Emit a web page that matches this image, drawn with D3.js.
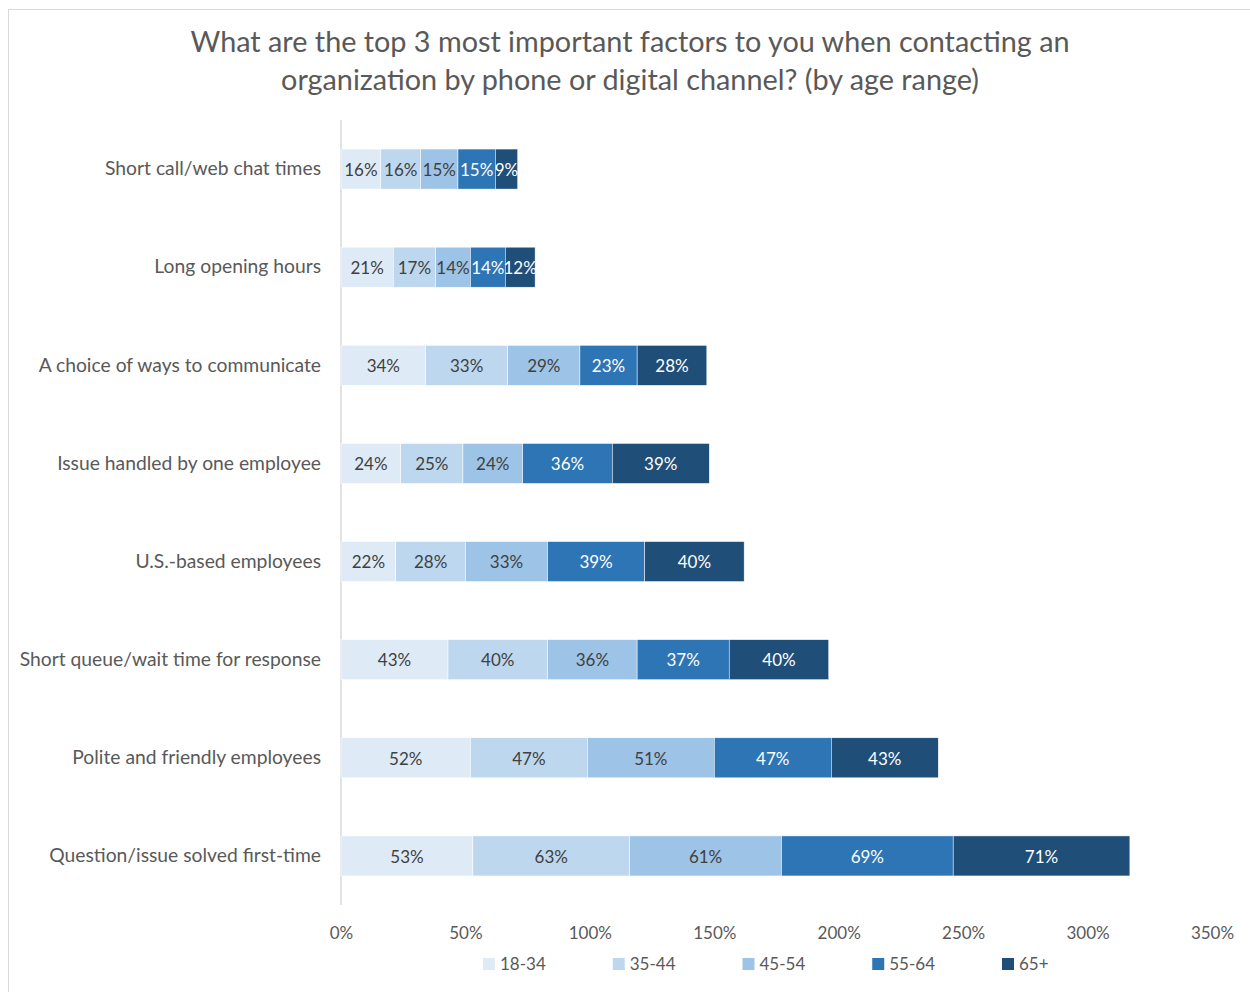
<!DOCTYPE html>
<html><head><meta charset="utf-8">
<script src="https://cdn.jsdelivr.net/npm/d3@7"></script>
<style>body{margin:0;background:#fff}svg{display:block}text{font-family:Lato,"Open Sans",sans-serif}</style>
</head><body><svg id="c" width="1250" height="992"></svg>
<script>
const categories = ["Short call/web chat times","Long opening hours","A choice of ways to communicate","Issue handled by one employee","U.S.-based employees","Short queue/wait time for response","Polite and friendly employees","Question/issue solved first-time"];
const seriesNames = ["18-34","35-44","45-54","55-64","65+"];
const s1834 = [16,21,34,24,22,43,52,53];
const s3544 = [16,17,33,25,28,40,47,63];
const s4554 = [15,14,29,24,33,36,51,61];
const s5564 = [15,14,23,36,39,37,47,69];
const s65 = [9,12,28,39,40,40,43,71];
const tickValues = [0,50,100,150,200,250,300,350];
const titleLines = ["What are the top 3 most important factors to you when contacting an","organization by phone or digital channel? (by age range)"];

const colors = ["#DEEBF7","#BDD7EE","#9DC3E6","#2E75B6","#1F4E79"];
const labelColors = ["#404040","#404040","#404040","#ffffff","#ffffff"];
const svg = d3.select("#c");
svg.append("rect").attr("x",8.5).attr("y",9.5).attr("width",1300).attr("height",1100).attr("fill","#fff").attr("stroke","#d9d9d9");

const x = d3.scaleLinear().domain([0,350]).range([341,1212]);
const y = d3.scaleBand().domain(categories).range([120,905]).paddingInner(0.592).paddingOuter(0.296);

const rows = categories.map((c,i)=>({cat:c, vals:[s1834[i],s3544[i],s4554[i],s5564[i],s65[i]]}));
const table = rows.map(r=>{const o={cat:r.cat}; seriesNames.forEach((s,j)=>o[s]=r.vals[j]); return o;});
const stacked = d3.stack().keys(seriesNames)(table);

svg.selectAll("text.title").data(titleLines).enter().append("text")
 .attr("x",630).attr("y",(d,i)=>52+i*38).attr("text-anchor","middle")
 .attr("font-size",28.8).attr("fill","#595959").text(d=>d);

svg.append("line").attr("x1",341).attr("x2",341).attr("y1",120).attr("y2",905).attr("stroke","#d9d9d9").attr("stroke-width",1.5);

stacked.forEach((layer,j)=>{
  const g = svg.append("g");
  g.selectAll("rect").data(layer).enter().append("rect")
   .attr("x",d=>x(d[0])).attr("width",d=>x(d[1])-x(d[0]))
   .attr("y",d=>y(d.data.cat)).attr("height",y.bandwidth())
   .attr("fill",colors[j]).attr("stroke","#fff").attr("stroke-width",0.5);
  g.selectAll("text").data(layer).enter().append("text")
   .attr("x",d=>(x(d[0])+x(d[1]))/2).attr("y",d=>y(d.data.cat)+y.bandwidth()/2)
   .attr("dy","0.4em").attr("text-anchor","middle").attr("font-size",17)
   .attr("fill",labelColors[j]).text(d=>(d[1]-d[0])+"%");
});

const yAxis = d3.axisLeft(y).tickSize(0).tickPadding(20);
const ya = svg.append("g").attr("transform","translate(341,0)").call(yAxis);
ya.select(".domain").remove();
ya.selectAll("text").attr("font-size",19.3).attr("fill","#595959").style("font-family","Lato");

const xAxis = d3.axisBottom(x).tickValues(tickValues).tickSize(0).tickPadding(0).tickFormat(d=>d+"%");
const xa = svg.append("g").attr("transform","translate(0,927)").call(xAxis);
xa.select(".domain").remove();
xa.selectAll("text").attr("font-size",17).attr("fill","#595959").style("font-family","Lato");

const legX = d3.scalePoint().domain(seriesNames).range([483,1002]);
const lg = svg.selectAll("g.leg").data(seriesNames).enter().append("g").attr("transform",d=>`translate(${legX(d)},964)`);
lg.append("rect").attr("x",0).attr("y",-6).attr("width",12).attr("height",12).attr("fill",(d,i)=>colors[i]);
lg.append("text").attr("x",17).attr("dy","0.35em").attr("font-size",17).attr("fill","#595959").text(d=>d);
</script></body></html>
